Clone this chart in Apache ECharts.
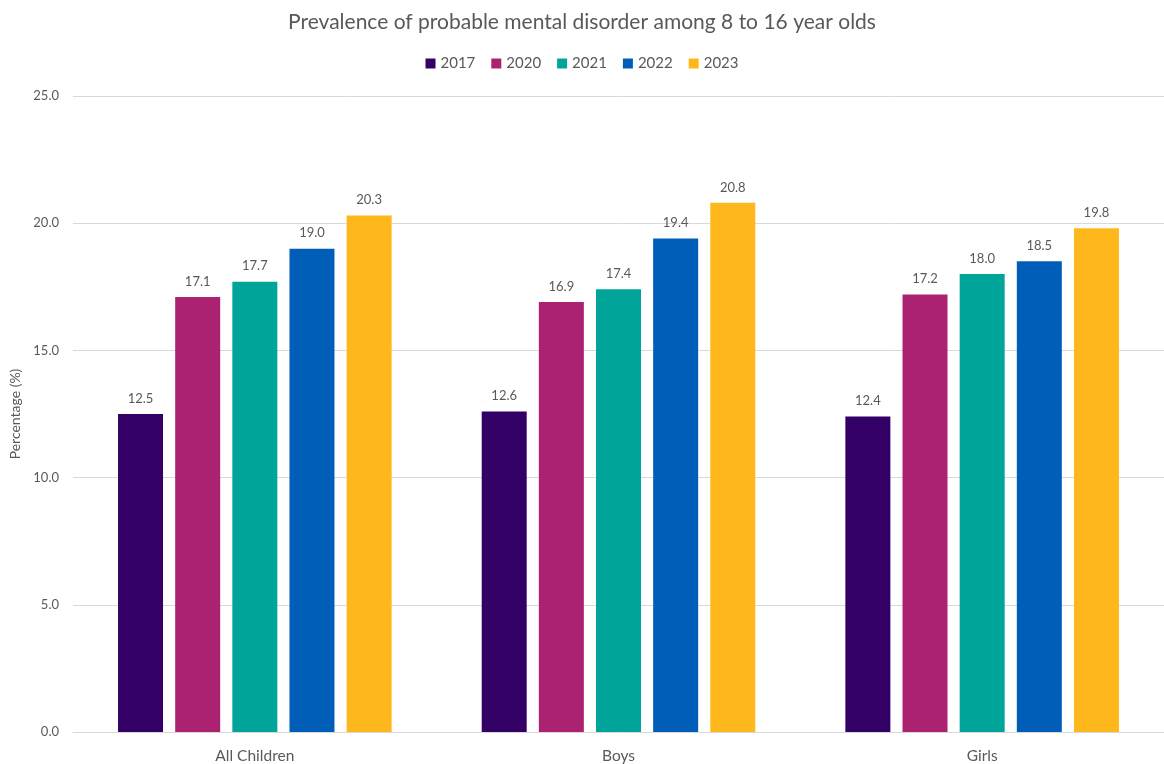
<!DOCTYPE html>
<html>
<head>
<meta charset="utf-8">
<script src="https://cdn.jsdelivr.net/npm/echarts@6/dist/echarts.min.js"></script>
<style>html,body{margin:0;padding:0;background:#fff;overflow:hidden;width:1164px;height:764px}#c{width:1164px;height:764px;overflow:hidden}</style>
</head>
<body>
<div id="c"></div>
<script>
var categories = ['All Children', 'Boys', 'Girls'];
var years = ['2017', '2020', '2021', '2022', '2023'];
var v2017 = [12.5, 12.6, 12.4];
var v2020 = [17.1, 16.9, 17.2];
var v2021 = [17.7, 17.4, 18.0];
var v2022 = [19.0, 19.4, 18.5];
var v2023 = [20.3, 20.8, 19.8];
var yTicks = [0, 5, 10, 15, 20, 25];

var values = [v2017, v2020, v2021, v2022, v2023];
var colors = ['#330066', '#AB2370', '#00A499', '#005EB8', '#FFB81C'];
var font = 'Lato, "Open Sans", sans-serif';
var txt = '#595959';

var chart = echarts.init(document.getElementById('c'));
chart.setOption({
  animation: false,
  title: {
    text: 'Prevalence of probable mental disorder among 8 to 16 year olds',
    left: 'center', top: 7,
    textStyle: { fontFamily: font, fontSize: 21, fontWeight: 'normal', color: txt }
  },
  legend: {
    top: 51, left: 'center',
    itemWidth: 10, itemHeight: 10, itemGap: 16,
    icon: 'rect',
    textStyle: { fontFamily: font, fontSize: 15, color: txt }
  },
  grid: { left: 73, right: -9, top: 96, bottom: 29, containLabel: false },
  xAxis: {
    type: 'category', data: categories,
    axisLine: { lineStyle: { color: '#d9d9d9' } },
    axisTick: { show: false },
    axisLabel: { fontFamily: font, fontSize: 15.5, color: txt, margin: 16 }
  },
  yAxis: {
    type: 'value', min: yTicks[0], max: yTicks[yTicks.length - 1], interval: 5,
    name: 'Percentage (%)', nameLocation: 'middle', nameGap: 51,
    nameTextStyle: { fontFamily: font, fontSize: 14, color: txt },
    axisLine: { show: false }, axisTick: { show: false },
    splitLine: { lineStyle: { color: '#d9d9d9' } },
    axisLabel: { fontFamily: font, fontSize: 13, color: txt, margin: 14,
      formatter: function (v) { return v.toFixed(1); } }
  },
  series: years.map(function (y, i) {
    return {
      name: y, type: 'bar', data: values[i],
      barWidth: 45, barGap: '27%',
      itemStyle: { color: colors[i] },
      label: { show: true, position: 'top', distance: 9,
        fontFamily: font, fontSize: 13, color: txt,
        formatter: function (p) { return p.value.toFixed(1); } }
    };
  })
});
</script>
</body>
</html>
